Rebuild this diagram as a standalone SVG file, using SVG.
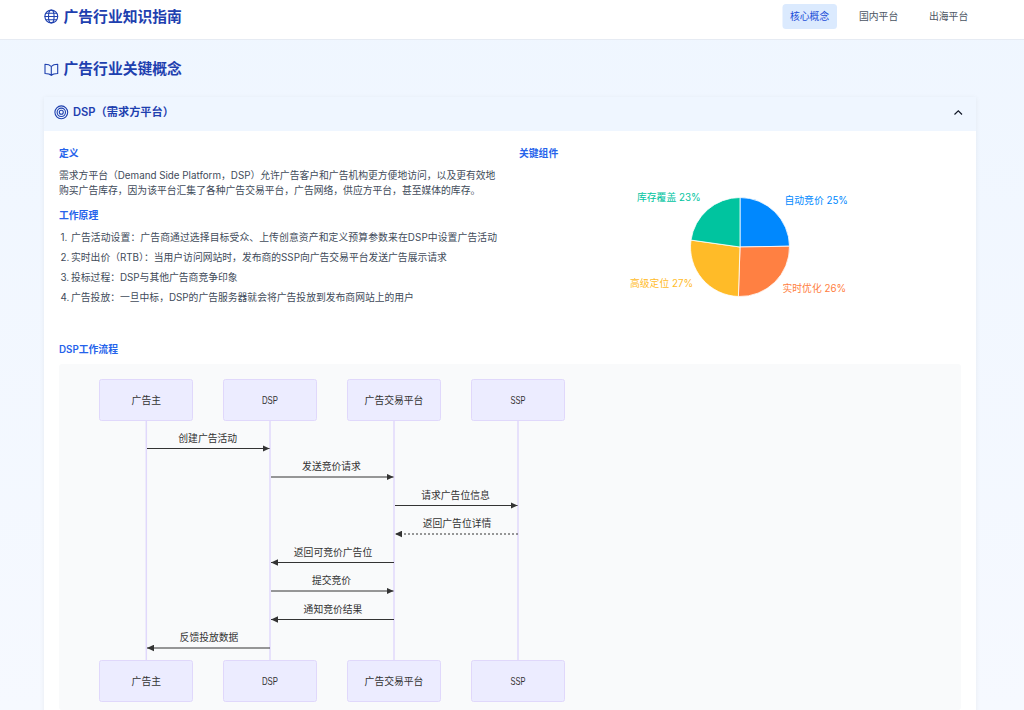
<svg xmlns="http://www.w3.org/2000/svg" width="1024" height="710" viewBox="0 0 1024 710">
<style>
text{font-family:Inter,"Noto Sans CJK SC",sans-serif}
.title{font-size:14.8px;font-weight:700;fill:#1e40af}
.nav{font-size:9.8px;fill:#4b5563}
.sub{font-size:9.8px;font-weight:600;fill:#2563eb}
.body{font-size:9.8px;fill:#414b5a}
.pl{font-size:9.8px}
.icon{fill:none;stroke:#1e40af;stroke-width:1.1;stroke-linecap:round;stroke-linejoin:round}
.actor{fill:#ececff;stroke:#e0d8fb;stroke-width:1}
.at{font-family:"Liberation Sans","Noto Sans CJK SC",sans-serif;font-size:9.8px;fill:#333;text-anchor:middle}
.al{font-size:11px}
.life{stroke:#e0d8fb;stroke-width:1.5;fill:none}
.msg{stroke:#333;stroke-width:1;fill:none}
.dash{stroke-dasharray:2 2}
.ml{font-size:9.8px;fill:#333;text-anchor:middle}
</style>
<defs>
<linearGradient id="bg" x1="0" y1="0" x2="0" y2="1"><stop offset="0" stop-color="#eff6ff"/><stop offset="1" stop-color="#f6f9ff"/></linearGradient>
<filter id="sh" x="-3%" y="-3%" width="106%" height="106%"><feDropShadow dx="0" dy="1" stdDeviation="2" flood-color="#000" flood-opacity="0.06"/></filter>
<marker id="ah" markerWidth="8" markerHeight="7" refX="7" refY="3.5" orient="auto-start-reverse" markerUnits="userSpaceOnUse"><path d="M0 0.2L7 3.5L0 6.8Z" fill="#333"/></marker>
</defs>
<rect width="1024" height="710" fill="url(#bg)"/>
<g id="topbar">
<rect width="1024" height="39" fill="#fff"/>
<line x1="0" y1="39.5" x2="1024" y2="39.5" stroke="#e6ebf3"/>
<g class="icon"><circle cx="51.3" cy="16.5" r="6.4"/><ellipse cx="51.3" cy="16.5" rx="2.8" ry="6.4"/><path d="M45 16.5H57.6M45.9 13.3H56.7M45.9 19.7H56.7"/></g>
<text class="title" x="63.5" y="22">广告行业知识指南</text>
<rect x="782.5" y="4" width="54.5" height="25" rx="3.5" fill="#dbeafe"/>
<text class="nav" x="790" y="20.2" style="fill:#1d4ed8">核心概念</text>
<text class="nav" x="859" y="20.2">国内平台</text>
<text class="nav" x="929" y="20.2">出海平台</text>
</g>
<g id="section-title">
<path class="icon" d="M51.3 66.5C50 65 48 64.200 45 64.200V73.500C48 73.500 50 74 51.300 75.300C52.600 74 54.600 73.500 57.700 73.500V64.200C54.600 64.200 52.600 65 51.300 66.500V75.300"/>
<text class="title" x="63.500" y="74">广告行业关键概念</text>
</g>
<g id="card">
<rect x="44" y="97" width="932" height="620" fill="#fff" filter="url(#sh)"/>
<rect x="44" y="97" width="932" height="34" fill="#eff6ff"/>
<g class="icon"><circle cx="61.300" cy="112.300" r="6.400"/><circle cx="61.300" cy="112.300" r="4.200"/><circle cx="61.300" cy="112.300" r="2"/></g>
<text x="73" y="116.200" style="font-size:11.200px;font-weight:600;fill:#1e40af">DSP（需求方平台）</text>
<path d="M954.500 114.500L958.300 110.800L962 114.500" fill="none" stroke="#111827" stroke-width="1.200"/>
<text class="sub" x="59" y="156.500">定义</text>
<text class="body" x="59" y="178.500">需求方平台（Demand Side Platform，DSP）允许广告客户和广告机构更方便地访问，以及更有效地</text>
<text class="body" x="59" y="193.500">购买广告库存，因为该平台汇集了各种广告交易平台，广告网络，供应方平台，甚至媒体的库存。</text>
<text class="sub" x="59" y="218.500">工作原理</text>
<text class="body" y="240.500"><tspan x="60.500">1.</tspan> <tspan x="71" textLength="426" lengthAdjust="spacing">广告活动设置：广告商通过选择目标受众、上传创意资产和定义预算参数来在DSP中设置广告活动</tspan></text>
<text class="body" y="260.500"><tspan x="60.500">2.</tspan> <tspan x="71">实时出价（RTB）：当用户访问网站时，发布商的SSP向广告交易平台发送广告展示请求</tspan></text>
<text class="body" y="280.500"><tspan x="60.500">3.</tspan> <tspan x="71">投标过程：DSP与其他广告商竞争印象</tspan></text>
<text class="body" y="300.500"><tspan x="60.500">4.</tspan> <tspan x="71">广告投放：一旦中标，DSP的广告服务器就会将广告投放到发布商网站上的用户</tspan></text>
<text class="sub" x="519" y="156.500">关键组件</text>
<text class="sub" x="59" y="352.500">DSP工作流程</text>
</g>
<g id="pie" stroke="#fff" stroke-width="0.800">
<path fill="#0088fe" d="M740 247V197.500A49.500 49.500 0 0 1 789.500 246.200Z"/>
<path fill="#ff8042" d="M740 247L789.500 246.200A49.500 49.500 0 0 1 738.400 296.500Z"/>
<path fill="#ffbb28" d="M740 247L738.400 296.500A49.500 49.500 0 0 1 691 240.100Z"/>
<path fill="#00c49f" d="M740 247L691 240.100A49.500 49.500 0 0 1 740 197.500Z"/>
</g>
<g id="pie-labels">
<text class="pl" x="784.500" y="203.500" fill="#0088fe">自动竞价 25%</text>
<text class="pl" x="782.500" y="291.500" fill="#ff8042">实时优化 26%</text>
<text class="pl" x="630" y="286.500" fill="#ffbb28">高级定位 27%</text>
<text class="pl" x="637" y="200.500" fill="#00c49f">库存覆盖 23%</text>
</g>
<rect id="diagram-bg" x="59" y="364" width="902" height="346" rx="3" fill="#f9fafb"/>
<g id="lifelines">
<line class="life" x1="146.300" y1="420" x2="146.300" y2="660"/>
<line class="life" x1="270" y1="420" x2="270" y2="660"/>
<line class="life" x1="394" y1="420" x2="394" y2="660"/>
<line class="life" x1="518" y1="420" x2="518" y2="660"/>
</g>
<g id="actor-top-advertiser"><rect class="actor" x="99.500" y="379.500" width="93" height="41" rx="2"/><text class="at" x="146.300" y="403.500">广告主</text></g>
<g id="actor-top-dsp"><rect class="actor" x="223.500" y="379.500" width="93" height="41" rx="2"/><text class="at al" x="270" y="404" textLength="16" lengthAdjust="spacingAndGlyphs">DSP</text></g>
<g id="actor-top-exchange"><rect class="actor" x="347.500" y="379.500" width="93" height="41" rx="2"/><text class="at" x="394" y="403.500">广告交易平台</text></g>
<g id="actor-top-ssp"><rect class="actor" x="471.500" y="379.500" width="93" height="41" rx="2"/><text class="at al" x="518" y="404" textLength="15" lengthAdjust="spacingAndGlyphs">SSP</text></g>
<g id="actor-bottom-advertiser"><rect class="actor" x="99.500" y="660.500" width="93" height="41" rx="2"/><text class="at" x="146.300" y="684.500">广告主</text></g>
<g id="actor-bottom-dsp"><rect class="actor" x="223.500" y="660.500" width="93" height="41" rx="2"/><text class="at al" x="270" y="685" textLength="16" lengthAdjust="spacingAndGlyphs">DSP</text></g>
<g id="actor-bottom-exchange"><rect class="actor" x="347.500" y="660.500" width="93" height="41" rx="2"/><text class="at" x="394" y="684.500">广告交易平台</text></g>
<g id="actor-bottom-ssp"><rect class="actor" x="471.500" y="660.500" width="93" height="41" rx="2"/><text class="at al" x="518" y="685" textLength="15" lengthAdjust="spacingAndGlyphs">SSP</text></g>
<g id="connectors">
<line class="msg" x1="147" y1="448.500" x2="269.500" y2="448.500" marker-end="url(#ah)"/>
<line class="msg" x1="271" y1="477" x2="393.500" y2="477" marker-end="url(#ah)"/>
<line class="msg" x1="395" y1="505.500" x2="517.500" y2="505.500" marker-end="url(#ah)"/>
<line class="msg dash" x1="518" y1="534" x2="395" y2="534" marker-end="url(#ah)"/>
<line class="msg" x1="394" y1="562.500" x2="271" y2="562.500" marker-end="url(#ah)"/>
<line class="msg" x1="271" y1="591" x2="393.500" y2="591" marker-end="url(#ah)"/>
<line class="msg" x1="394" y1="619.500" x2="271" y2="619.500" marker-end="url(#ah)"/>
<line class="msg" x1="270" y1="648" x2="147" y2="648" marker-end="url(#ah)"/>
</g>
<g id="message-labels">
<text class="ml" x="207.700" y="441.500">创建广告活动</text>
<text class="ml" x="331.500" y="470">发送竞价请求</text>
<text class="ml" x="455.500" y="498.500">请求广告位信息</text>
<text class="ml" x="457" y="527">返回广告位详情</text>
<text class="ml" x="333" y="555.500">返回可竞价广告位</text>
<text class="ml" x="331.500" y="584">提交竞价</text>
<text class="ml" x="333" y="612.500">通知竞价结果</text>
<text class="ml" x="209" y="641">反馈投放数据</text>
</g>
</svg>
